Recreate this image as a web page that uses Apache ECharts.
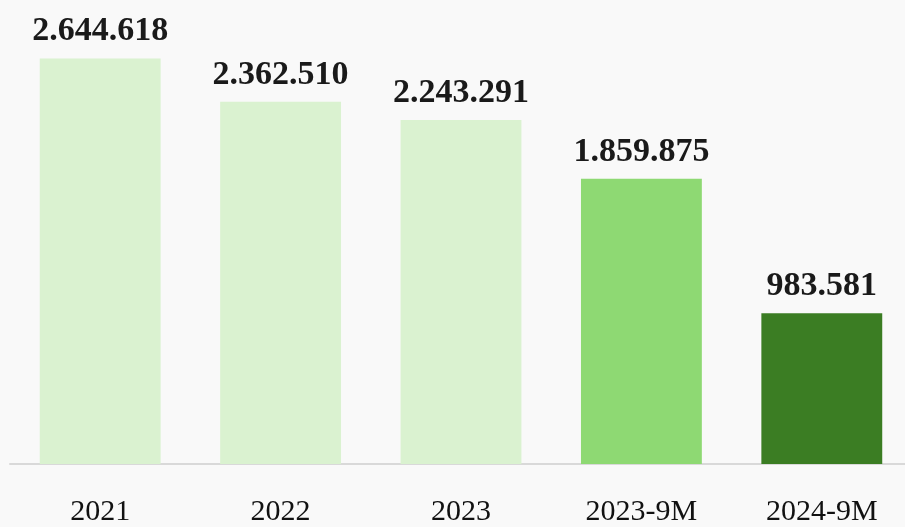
<!DOCTYPE html>
<html><head><meta charset="utf-8">
<script src="https://cdn.jsdelivr.net/npm/echarts@6/dist/echarts.min.js"></script>
<style>html,body{margin:0;padding:0;background:#f9f9f9;overflow:hidden;}#c{width:912px;height:527px;}</style>
</head><body><div id="c"></div>
<script>
const categories = ['2021', '2022', '2023', '2023-9M', '2024-9M'];
const values = [2644618, 2362510, 2243291, 1859875, 983581];
const barColors = ['#DAF2D0', '#DAF2D0', '#DAF2D0', '#8ED973', '#3B7D23'];

function fmt(v) { return String(v).replace(/\B(?=(\d{3})+(?!\d))/g, '.'); }

const chart = echarts.init(document.getElementById('c'));
chart.setOption({
  backgroundColor: '#f9f9f9',
  animation: false,
  grid: { left: 10, right: 0, top: 4, bottom: 59, containLabel: false },
  xAxis: {
    type: 'category', data: categories,
    axisLine: { show: true, lineStyle: { color: '#d9d9d9', width: 2 } },
    axisTick: { show: false },
    axisLabel: { color: '#111', fontSize: 30, fontFamily: 'Liberation Serif', margin: 33 }
  },
  yAxis: { type: 'value', min: 0, max: 3000000, show: false, splitLine: { show: false } },
  series: [{
    type: 'bar', barWidth: '67%',
    data: values.map((v, i) => ({ value: v, itemStyle: { color: barColors[i] } })),
    label: {
      show: true, position: 'top', distance: 10,
      formatter: p => fmt(p.value),
      color: '#1a1a1a', fontSize: 34, fontWeight: 'bold', fontFamily: 'Liberation Serif'
    }
  }]
});
</script></body></html>
